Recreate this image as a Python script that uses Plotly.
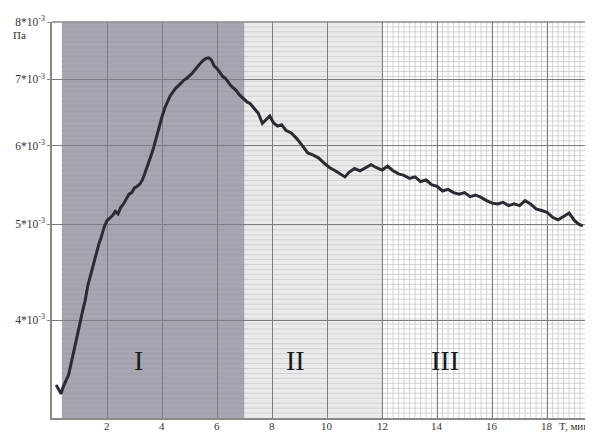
import math
import plotly.graph_objects as go

# time, min
t = [0.15, 0.25, 0.33, 0.40, 0.50, 0.60, 0.70, 0.80, 0.90, 1.00, 1.10, 1.20, 1.30, 1.40,
     1.50, 1.60, 1.70, 1.80, 1.90, 2.00, 2.10, 2.20, 2.30, 2.40, 2.50, 2.60, 2.70, 2.80,
     2.90, 3.00, 3.10, 3.20, 3.30, 3.40, 3.50, 3.60, 3.70, 3.80, 3.90, 4.00, 4.10, 4.20,
     4.30, 4.40, 4.50, 4.60, 4.70, 4.80, 4.90, 5.00, 5.10, 5.20, 5.30, 5.40, 5.50, 5.60,
     5.70, 5.80, 5.90, 6.00, 6.10, 6.20, 6.30, 6.40, 6.50, 6.60, 6.70, 6.80, 6.90, 7.00,
     7.10, 7.20, 7.35, 7.50, 7.65, 7.80, 7.92, 8.05, 8.20, 8.35, 8.50, 8.70, 8.90, 9.10,
     9.30, 9.50, 9.70, 9.90, 10.10, 10.30, 10.50, 10.65, 10.80, 11.00, 11.20, 11.40, 11.60,
     11.80, 12.00, 12.20, 12.40, 12.60, 12.80, 13.00, 13.20, 13.40, 13.60, 13.80, 14.00,
     14.20, 14.40, 14.60, 14.80, 15.00, 15.20, 15.40, 15.60, 15.80, 16.00, 16.20, 16.40,
     16.60, 16.80, 17.00, 17.20, 17.40, 17.60, 17.80, 18.00, 18.20, 18.40, 18.60, 18.80,
     19.00, 19.15, 19.30]
# pressure, x10^-3 Pa
p = [3.44, 3.40, 3.37, 3.42, 3.47, 3.52, 3.62, 3.72, 3.84, 3.95, 4.07, 4.18, 4.33, 4.44,
     4.55, 4.67, 4.77, 4.86, 4.97, 5.04, 5.07, 5.10, 5.15, 5.12, 5.20, 5.24, 5.30, 5.36,
     5.38, 5.44, 5.46, 5.49, 5.55, 5.65, 5.74, 5.86, 5.98, 6.13, 6.30, 6.42, 6.55, 6.66,
     6.74, 6.80, 6.86, 6.90, 6.95, 6.99, 7.02, 7.06, 7.10, 7.16, 7.22, 7.27, 7.32, 7.35,
     7.36, 7.32, 7.22, 7.18, 7.12, 7.05, 7.02, 6.95, 6.90, 6.86, 6.82, 6.76, 6.72, 6.68,
     6.64, 6.62, 6.55, 6.47, 6.32, 6.38, 6.43, 6.33, 6.28, 6.30, 6.22, 6.18, 6.10, 6.00,
     5.90, 5.87, 5.83, 5.76, 5.70, 5.66, 5.62, 5.58, 5.64, 5.69, 5.66, 5.70, 5.74,
     5.70, 5.67, 5.72, 5.66, 5.62, 5.60, 5.56, 5.58, 5.52, 5.54, 5.48, 5.46,
     5.40, 5.42, 5.38, 5.36, 5.38, 5.33, 5.35, 5.32, 5.28, 5.25, 5.24, 5.26,
     5.22, 5.24, 5.22, 5.28, 5.24, 5.18, 5.16, 5.14, 5.08, 5.05, 5.09, 5.13,
     5.04, 5.00, 4.98]

x_ticks = [2, 4, 6, 8, 10, 12, 14, 16, 18]
y_ticks = [4, 5, 6, 7, 8]
y_ticktext = ["4*10<sup>-3</sup>", "5*10<sup>-3</sup>", "6*10<sup>-3</sup>",
              "7*10<sup>-3</sup>", "8*10<sup>-3</sup>"]
regions = ["I", "II", "III"]
region_bounds = [(0.36, 7.0), (7.0, 12.0), (12.0, 19.4)]
region_label_x = [3.13, 8.84, 14.29]
region_label_y = 3.64

FONT = "Liberation Serif"
X_MAX = 19.67
Y_LOG = [0.5031, 0.9031]

shapes = []
fills = ["#a6a6b0", "#eaeaec", "#ffffff"]
for (a, b), c in zip(region_bounds, fills):
    shapes.append(dict(type="rect", xref="x", yref="paper", x0=a, x1=b, y0=0, y1=1,
                       fillcolor=c, line=dict(width=0), layer="below"))

# fine graph-paper lines
n_h = 80
for i in range(1, n_h):
    yy = i / n_h
    shapes.append(dict(type="line", xref="x", yref="paper", x0=7.0, x1=12.0, y0=yy, y1=yy,
                       line=dict(color="#d2d2d6", width=1), layer="below"))
    shapes.append(dict(type="line", xref="x", yref="paper", x0=12.0, x1=19.4, y0=yy, y1=yy,
                       line=dict(color="#d4d4d4", width=1), layer="below"))
    shapes.append(dict(type="line", xref="x", yref="paper", x0=0.36, x1=7.0, y0=yy, y1=yy,
                       line=dict(color="#a0a0aa", width=1), layer="below"))
k = 0
while 12.0 + 0.2 * k < 19.4:
    xx = 12.0 + 0.2 * k
    shapes.append(dict(type="line", xref="x", yref="paper", x0=xx, x1=xx, y0=0, y1=1,
                       line=dict(color="#d0d0d0", width=1), layer="below"))
    k += 1
# top border
shapes.append(dict(type="line", xref="paper", yref="paper", x0=0, x1=1, y0=1, y1=1,
                   line=dict(color="#8a8a8a", width=1.5), layer="below"))

fig = go.Figure()
fig.add_trace(go.Scatter(x=t, y=p, mode="lines",
                         line=dict(color="#2b2b33", width=3), hoverinfo="skip"))

annotations = []
for lab, xx in zip(regions, region_label_x):
    annotations.append(dict(x=xx, y=math.log10(region_label_y), xref="x", yref="y", text=lab,
                            showarrow=False, font=dict(family=FONT, size=28, color="#1a1a1a")))
for v in x_ticks:
    annotations.append(dict(x=v, y=0, xref="x", yref="paper", text=str(v),
                            showarrow=False, yanchor="top", yshift=0,
                            font=dict(family=FONT, size=11, color="#333")))
annotations.append(dict(x=0, y=0.987, xref="paper", yref="paper", text="Па",
                        showarrow=False, xanchor="left", yanchor="top", xshift=-41,
                        font=dict(family=FONT, size=11, color="#333")))
annotations.append(dict(x=18.35, y=0, xref="x", yref="paper", text="T, мин",
                        showarrow=False, xanchor="left", yanchor="top", yshift=0,
                        font=dict(family=FONT, size=11, color="#333")))

# page body has an 8px default margin; size the figure so the plot area lands
# at x 52..593, y 22..418 in the 593x432 window
fig.update_layout(
    width=585, height=424,
    margin=dict(l=44, r=0, t=14, b=14),
    paper_bgcolor="white", plot_bgcolor="white",
    showlegend=False,
    shapes=shapes,
    annotations=annotations,
    xaxis=dict(range=[0, X_MAX], tickvals=x_ticks, showgrid=True, automargin=False,
               gridcolor="#7c7c84", gridwidth=1, zeroline=False, showticklabels=False,
               showline=True, linecolor="#8a8a8a", linewidth=1.5, ticks=""),
    yaxis=dict(type="log", range=Y_LOG, tickvals=y_ticks, ticktext=y_ticktext,
               automargin=False,
               showgrid=True, gridcolor="#7c7c84", gridwidth=1, zeroline=False,
               showline=True, linecolor="#8a8a8a", linewidth=1.5,
               ticks="outside", ticklen=3, tickcolor="#8a8a8a",
               tickfont=dict(family=FONT, size=11.5, color="#333")),
)

fig.write_html("out.html")
